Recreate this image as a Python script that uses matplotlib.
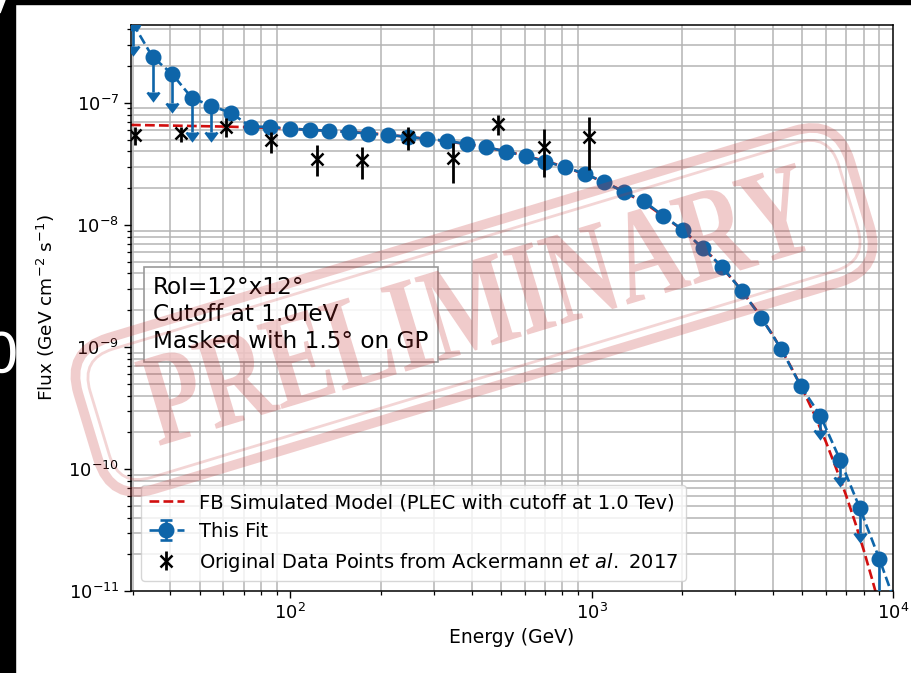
import numpy as np
import matplotlib
matplotlib.use("Agg")
import matplotlib.pyplot as plt
from matplotlib.patches import FancyBboxPatch, PathPatch, Rectangle, Polygon
from matplotlib.textpath import TextPath
from matplotlib.font_manager import FontProperties
from matplotlib.transforms import Affine2D

# ---------------- data ----------------
# Fitted spectrum ("This Fit")
E_fit = [30.0, 34.9, 40.5, 47.1, 54.7, 63.5, 73.8, 85.8, 99.7, 115.8, 134.6, 156.4,
         181.7, 211.2, 245.4, 285.1, 331.3, 385.0, 447.4, 519.8, 604.1, 701.9, 815.6,
         947.8, 1101, 1280, 1487, 1728, 2008, 2333, 2711, 3150, 3661, 4254, 4943,
         5744, 6674, 7756, 9012, 10472]
F_fit = [4.5e-7, 2.38e-7, 1.73e-7, 1.10e-7, 9.45e-8, 8.28e-8, 6.40e-8, 6.36e-8, 6.15e-8,
         6.01e-8, 5.90e-8, 5.78e-8, 5.60e-8, 5.47e-8, 5.26e-8, 5.07e-8, 4.88e-8, 4.61e-8,
         4.36e-8, 3.98e-8, 3.68e-8, 3.30e-8, 2.99e-8, 2.62e-8, 2.25e-8, 1.86e-8, 1.57e-8,
         1.19e-8, 9.1e-9, 6.48e-9, 4.53e-9, 2.88e-9, 1.73e-9, 9.64e-10, 4.79e-10,
         2.72e-10, 1.19e-10, 4.79e-11, 1.83e-11, 6.5e-12]
Err_fit = [1.6e-7, 1.14e-7, 7.3e-8, 5.2e-8, 3.7e-8, 2.5e-9, 1.9e-9, 1.9e-9, 1.8e-9,
           1.8e-9, 1.8e-9, 1.7e-9, 1.7e-9, 1.6e-9, 1.6e-9, 1.5e-9, 1.5e-9, 1.4e-9,
           1.3e-9, 1.2e-9, 1.1e-9, 1.0e-9, 9e-10, 8e-10, 7e-10, 6e-10, 5e-10,
           4e-10, 3e-10, 2e-10, 1.4e-10, 9e-11, 5e-11, 3e-11, 1.5e-11,
           6.3e-11, 3.3e-11, 1.8e-11, 1.5e-11, 3e-12]
UL_fit = [True, True, True, True, True] + [False] * 30 + [True, True, True, True, True]

# Original data points (Ackermann et al. 2017)
E_ack = [30.6, 43.3, 61.2, 86.6, 122.5, 173.2, 245, 346, 490, 693, 980]
F_ack = [5.47e-8, 5.67e-8, 6.36e-8, 4.98e-8, 3.47e-8, 3.41e-8, 5.26e-8, 3.54e-8,
         6.73e-8, 4.36e-8, 5.26e-8]
Err_ack_lo = [0.94e-8, 0.88e-8, 1.10e-8, 1.09e-8, 0.95e-8, 1.03e-8, 1.14e-8, 1.33e-8,
              1.26e-8, 1.89e-8, 2.44e-8]
Err_ack_hi = [0.89e-8, 0.69e-8, 1.18e-8, 0.80e-8, 1.06e-8, 0.95e-8, 1.10e-8, 1.16e-8,
              1.24e-8, 1.76e-8, 2.42e-8]

# FB simulated model (PLEC, cutoff 1 TeV)
E_model = [29.6, 40, 60, 80, 100, 150, 200, 300, 400, 500, 600, 700, 800, 1000, 1200,
           1500, 2000, 2500, 3000, 3500, 4000, 4500, 5000, 5500, 6000, 6500, 7000,
           7500, 8000, 8500, 9000, 9500, 10000]
F_model = [6.6e-8, 6.52e-8, 6.4e-8, 6.28e-8, 6.15e-8, 5.83e-8, 5.55e-8, 5.01e-8, 4.53e-8,
           4.09e-8, 3.70e-8, 3.35e-8, 3.03e-8, 2.48e-8, 2.03e-8, 1.51e-8, 9.13e-9,
           5.54e-9, 3.36e-9, 2.04e-9, 1.24e-9, 7.50e-10, 4.55e-10, 2.76e-10, 1.65e-10,
           9.9e-11, 6.0e-11, 3.6e-11, 2.15e-11, 1.28e-11, 7.7e-12, 4.6e-12, 2.8e-12]

label_model = "FB Simulated Model (PLEC with cutoff at 1.0 Tev)"
label_fit = "This Fit"
label_ack = r"Original Data Points from Ackermann $et\ al.$ 2017"
info_text = "RoI=12°x12°\nCutoff at 1.0TeV\nMasked with 1.5° on GP"
stamp_word = "PRELIMINARY"

# ---------------- figure ----------------
W, H, DPI = 911, 673, 100
fig = plt.figure(figsize=(W / DPI, H / DPI), dpi=DPI, facecolor="white")
ax = fig.add_axes([131 / W, 1 - 591 / H, (893 - 131) / W, (591 - 25) / H])

blue = "#0e65a9"
red = "#d10f0f"

ax.plot(E_model, F_model, ls="--", color=red, lw=1.9, dashes=(3.7, 1.6),
        label=label_model, zorder=2.5)
ax.errorbar(E_fit, F_fit, yerr=Err_fit, uplims=UL_fit, fmt="o--", color=blue,
            ms=10.5, lw=1.9, elinewidth=1.9, capsize=4, capthick=1.9,
            label=label_fit, zorder=3)
ax.errorbar(E_ack, F_ack, yerr=[Err_ack_lo, Err_ack_hi], fmt="x", color="black",
            ms=8.5, mew=1.8, elinewidth=2.0, capsize=0, label=label_ack, zorder=4)

ax.set_xscale("log")
ax.set_yscale("log")
ax.set_xlim(29.6, 1.0e4)
ax.set_ylim(1e-11, 4.35e-7)
ax.grid(which="minor", color="#b4b4b4", lw=1.1)
ax.grid(which="major", visible=False)
ax.tick_params(which="major", labelsize=13, length=5, width=1.0)
ax.tick_params(which="minor", length=3, width=0.9)
for s in ax.spines.values():
    s.set_linewidth(1.1)

ax.set_xlabel("Energy (GeV)", fontsize=13.5)
ax.set_ylabel(r"Flux (GeV cm$^{-2}$ s$^{-1}$)", fontsize=13.3, labelpad=8)

leg = ax.legend(loc="lower left", fontsize=14, framealpha=0.8, borderaxespad=0.5,
                handlelength=1.8)

ax.text((153 - 131) / 762, (591 - 276) / 566, info_text, transform=ax.transAxes,
        fontsize=16.7, va="top", ha="left", linespacing=1.22,
        bbox=dict(boxstyle="square,pad=0.4", fc=(1, 1, 1, 0.85), ec="0.6", lw=1.2),
        zorder=6)

# ---------------- screenshot border artefacts ----------------
fig.add_artist(Rectangle((0, 0), 15 / W, 1, transform=fig.transFigure,
                         color="black", zorder=10))
fig.add_artist(Rectangle((0, 1 - 4 / H), 1, 4 / H, transform=fig.transFigure,
                         color="black", zorder=10))
fig.add_artist(Polygon([[0, 1], [5 / W, 1], [0, 1 - 13 / H]], closed=True,
                       transform=fig.transFigure, color="white", zorder=11))
fig.text(19 / W, 1 - 357 / H, "0", color="white", fontsize=40, ha="right",
         va="center", zorder=11)

# ---------------- PRELIMINARY stamp (overlay) ----------------
cx, cy = 474, H - 310          # stamp centre, pixels (y up)
ang = 16.8
to_fig = Affine2D().scale(1 / DPI) + fig.dpi_scale_trans
rot = Affine2D().rotate_deg_around(cx, cy, ang)
stamp_col = "#c43030"

a, b = 403, 79
outer = FancyBboxPatch((cx - a, cy - b), 2 * a, 2 * b,
                       boxstyle="round,pad=0,rounding_size=45",
                       fill=False, ec=stamp_col, lw=7, alpha=0.24,
                       transform=rot + to_fig, zorder=20)
fig.add_artist(outer)
a2, b2 = a - 12, b - 12
inner = FancyBboxPatch((cx - a2, cy - b2), 2 * a2, 2 * b2,
                       boxstyle="round,pad=0,rounding_size=34",
                       fill=False, ec=stamp_col, lw=2.0, alpha=0.2,
                       transform=rot + to_fig, zorder=20)
fig.add_artist(inner)

fp = FontProperties(family="Liberation Serif", weight="bold")
tp = TextPath((0, 0), stamp_word, size=100, prop=fp)
bb = tp.get_extents()
sx = 690 / bb.width
sy = 88 / bb.height
tr = (Affine2D().translate(-bb.x0 - bb.width / 2, -bb.y0 - bb.height / 2)
      .scale(sx, sy).rotate_deg(ang).translate(cx + 3, cy + 6)) + to_fig
fig.add_artist(PathPatch(tp, transform=tr, fc=stamp_col, ec="none", alpha=0.25,
                         zorder=21))

fig.savefig("out.png", dpi=DPI, facecolor="white")
